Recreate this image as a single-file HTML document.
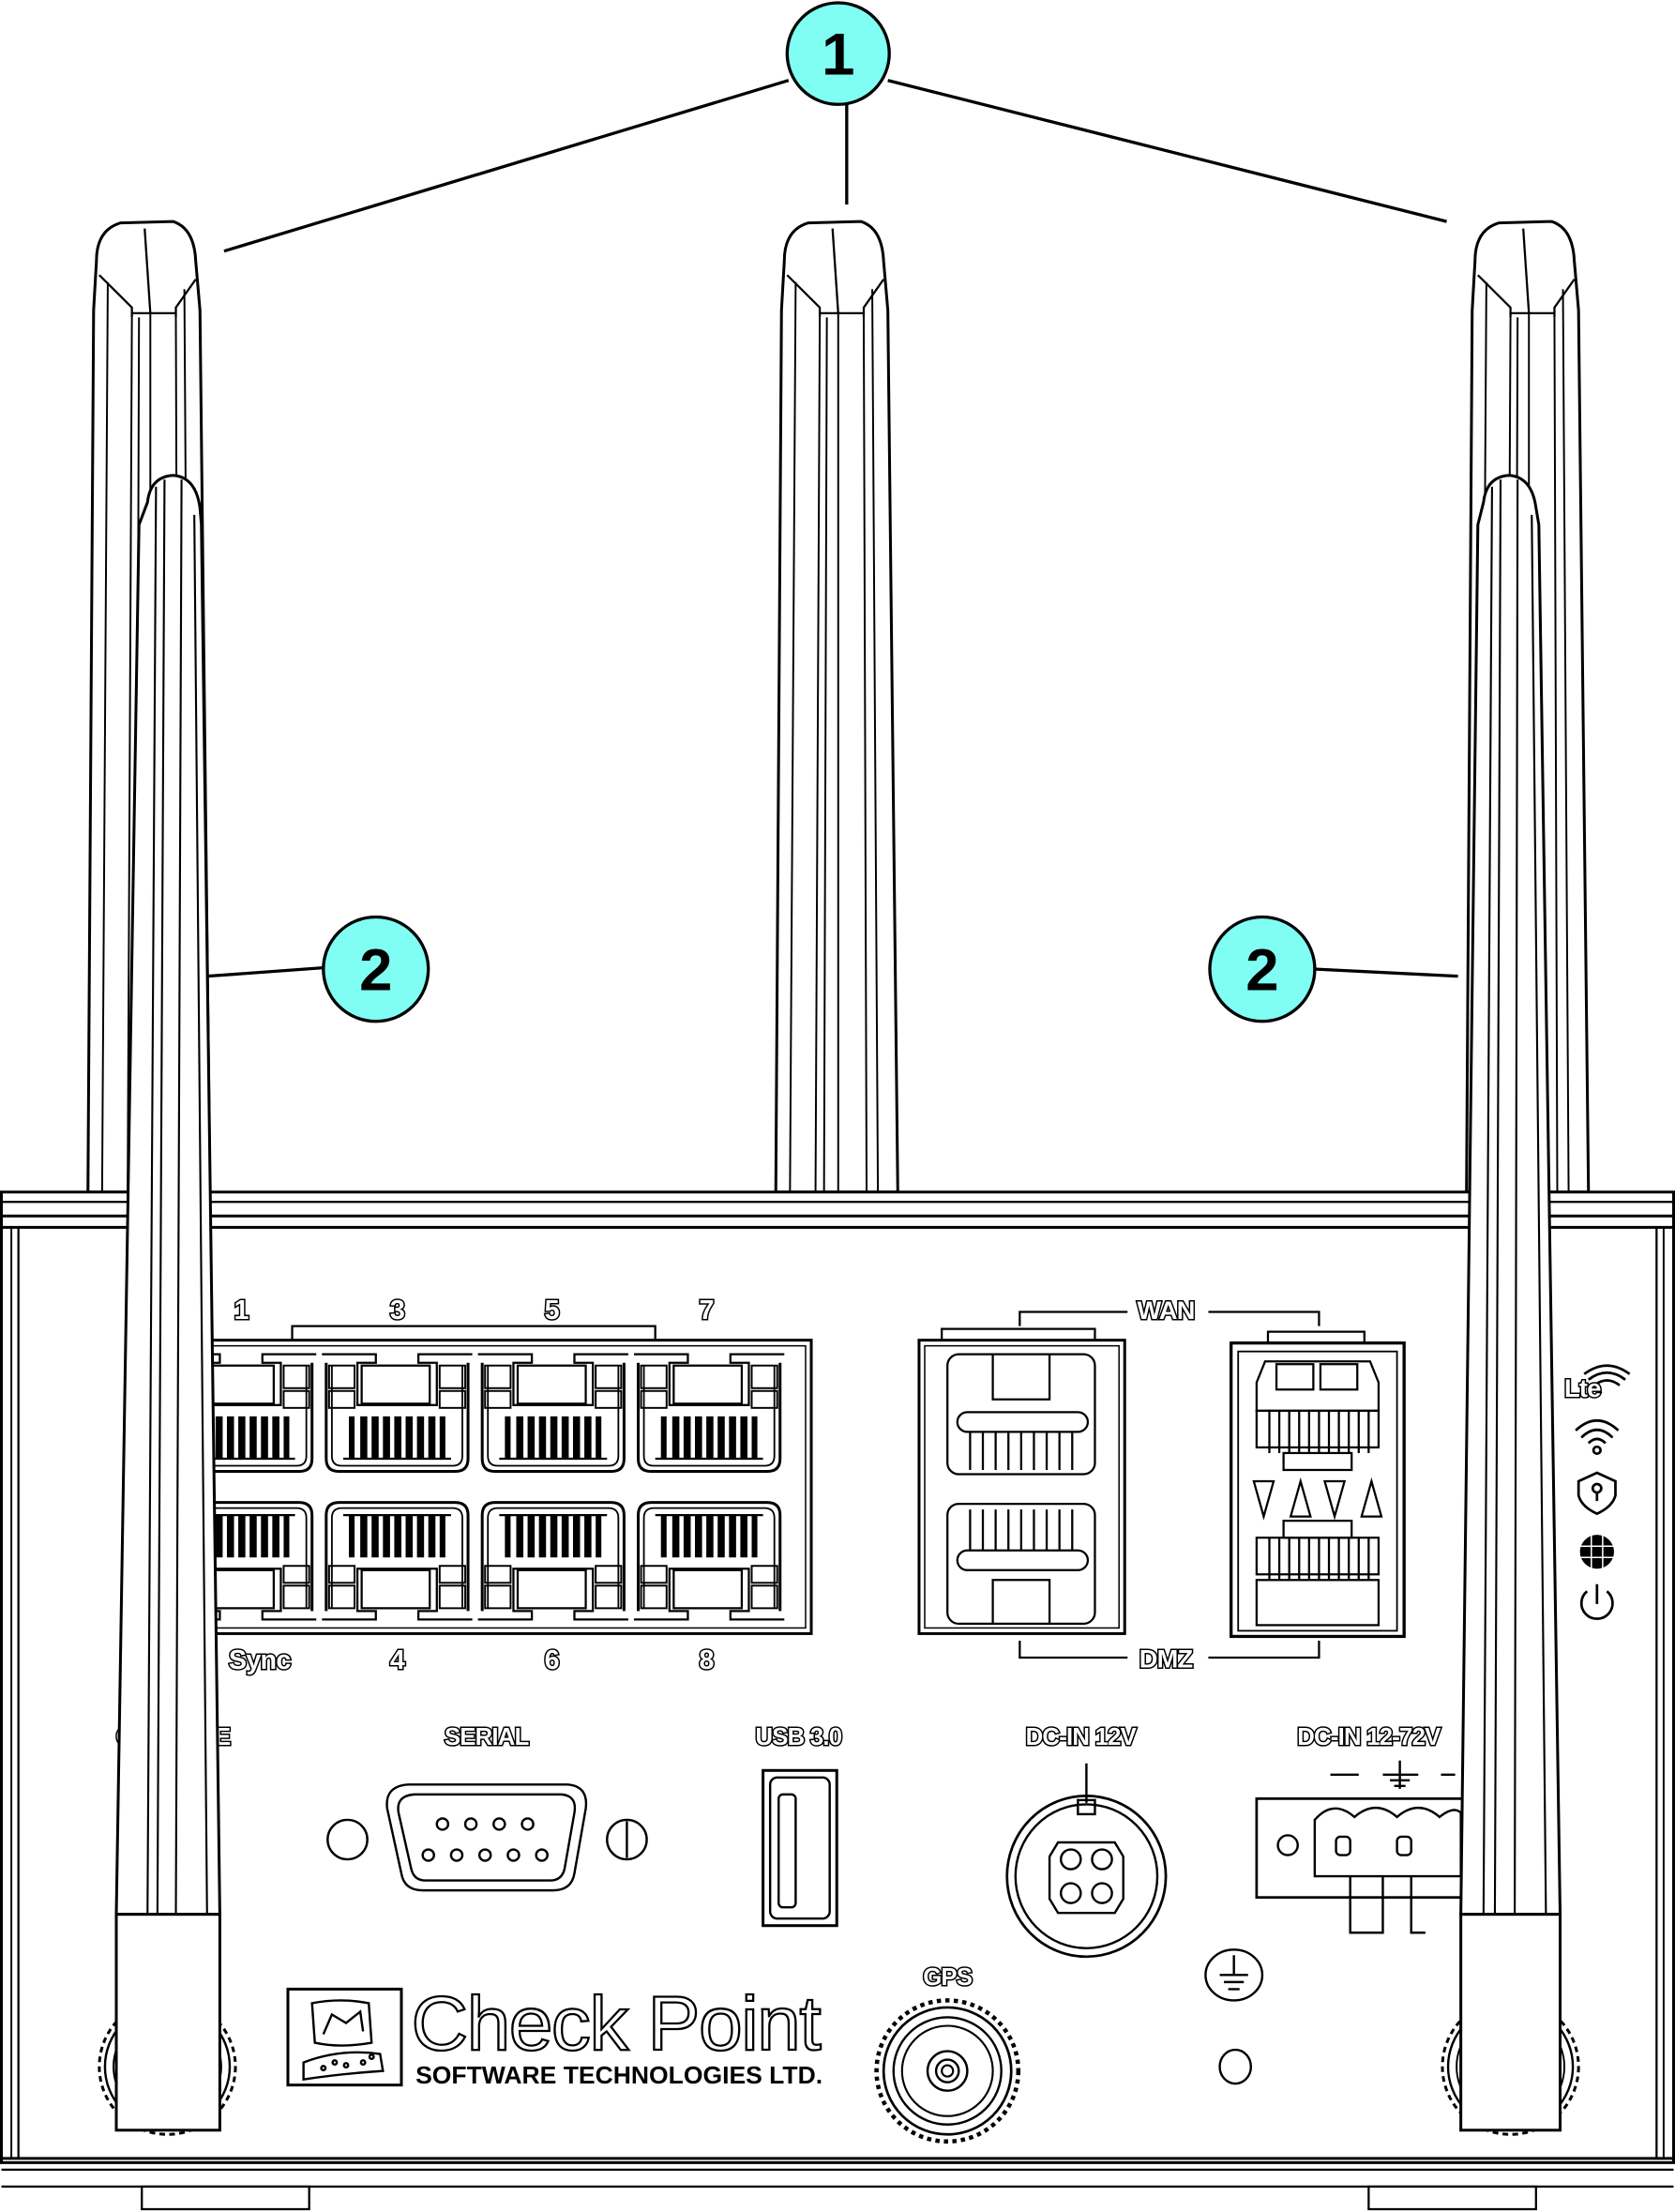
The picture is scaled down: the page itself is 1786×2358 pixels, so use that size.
<!DOCTYPE html>
<html><head><meta charset="utf-8"><style>
html,body{margin:0;padding:0;background:#fff;}
svg{display:block;}
.o{font-family:"Liberation Sans",sans-serif;font-weight:bold;fill:#fff;stroke:#000;stroke-width:2;paint-order:stroke;letter-spacing:-0.5px;}
</style></head><body>
<svg width="1786" height="2358" viewBox="0 0 1181 1568" preserveAspectRatio="none" xmlns="http://www.w3.org/2000/svg">
<defs>
<g id="back">
 <path d="M68,185 Q68,163 85,158 L122,157 Q137,162 138,185 L141,220 L148,845 L62,845 L66,220 Z" fill="#fff" stroke="#000" stroke-width="2"/>
 <path d="M70,195 L93,218 L93,225 M138,198 L124,218 L124,225 M93,222 L124,222 M102,162 L106,222" fill="none" stroke="#000" stroke-width="1.5"/>
 <path d="M76,200 L72,845 M93,225 L90,845 M98,225 L96,845 M106,222 L106,845 M124,225 L126,845 M130,205 L134,845" fill="none" stroke="#000" stroke-width="1.3"/>
</g>
<g id="rjt">
 <path d="M0,8 L0,76 Q0,85 9,85 L91,85 Q100,85 100,76 L100,8" fill="#fff" stroke="#000" stroke-width="2"/>
 <path d="M4,10 L4,74 Q4,81 11,81 L89,81 Q96,81 96,74 L96,10" fill="none" stroke="#000" stroke-width="1.2"/>
 <path d="M-3,2 L35,2 L35,8 L22,8 L22,38 L78,38 L78,8 L65,8 L65,2 L103,2" fill="none" stroke="#000" stroke-width="1.5"/>
 <rect x="25" y="10" width="48" height="27" fill="#fff" stroke="#000" stroke-width="1.5"/>
 <rect x="2" y="10" width="18" height="16" fill="none" stroke="#000" stroke-width="1.3"/>
 <rect x="80" y="10" width="18" height="16" fill="none" stroke="#000" stroke-width="1.3"/>
 <rect x="2" y="28" width="18" height="12" fill="none" stroke="#000" stroke-width="1.3"/>
 <rect x="80" y="28" width="18" height="12" fill="none" stroke="#000" stroke-width="1.3"/>
 <g fill="#000">
  <rect x="16" y="46" width="4" height="30"/><rect x="24" y="46" width="5" height="30"/><rect x="32" y="46" width="5" height="30"/><rect x="40" y="46" width="5" height="30"/><rect x="48" y="46" width="5" height="30"/><rect x="56" y="46" width="5" height="30"/><rect x="64" y="46" width="5" height="30"/><rect x="72" y="46" width="5" height="30"/><rect x="80" y="46" width="4" height="30"/>
 </g>
 <line x1="12" y1="76" x2="88" y2="76" stroke="#000" stroke-width="1.5"/>
</g>
<g id="knob">
 <circle cx="0" cy="0" r="48" fill="#fff" stroke="#000" stroke-width="2" stroke-dasharray="4 3"/>
 <circle cx="0" cy="0" r="44" fill="#fff" stroke="#000" stroke-width="1.6"/>
 <circle cx="0" cy="0" r="38" fill="none" stroke="#000" stroke-width="1.3"/>
</g>
</defs>

<g stroke="#000" stroke-width="2.2" fill="none">
 <line x1="556" y1="57" x2="158" y2="178"/>
 <line x1="597" y1="74" x2="597" y2="145"/>
 <line x1="626" y1="57" x2="1020" y2="157"/>
 <line x1="228" y1="686" x2="146" y2="692"/>
 <line x1="928" y1="687" x2="1028" y2="692"/>
</g>

<use href="#back"/>
<use href="#back" transform="translate(485,0)"/>
<use href="#back" transform="translate(972,0)"/>

<g stroke="#000" fill="#fff">
 <rect x="1" y="845" width="1179" height="688" stroke-width="2"/>
 <line x1="1" y1="852" x2="1180" y2="852" stroke-width="1.5"/>
 <line x1="1" y1="862" x2="1180" y2="862" stroke-width="2"/>
 <line x1="1" y1="870" x2="1180" y2="870" stroke-width="2"/>
 <line x1="8" y1="870" x2="8" y2="1530" stroke-width="1.3"/>
 <line x1="13" y1="870" x2="13" y2="1530" stroke-width="1.5"/>
 <line x1="1168" y1="870" x2="1168" y2="1530" stroke-width="1.5"/>
 <line x1="1173" y1="870" x2="1173" y2="1530" stroke-width="1.3"/>
 <line x1="1" y1="1530" x2="1180" y2="1530" stroke-width="2"/>
 <line x1="1" y1="1538" x2="1180" y2="1538" stroke-width="1.5"/>
 <line x1="1" y1="1550" x2="1180" y2="1550" stroke-width="1.5"/>
 <rect x="100" y="1550" width="118" height="16" stroke-width="1.5"/>
 <rect x="965" y="1550" width="118" height="16" stroke-width="1.5"/>
</g>

<rect x="110" y="950" width="462" height="208" fill="#fff" stroke="#000" stroke-width="2"/>
<rect x="114" y="954" width="454" height="200" fill="none" stroke="#000" stroke-width="1"/>
<path d="M206,950 L206,940 L462,940 L462,950" fill="none" stroke="#000" stroke-width="1.5"/>
<use href="#rjt" x="120" y="958"/>
<use href="#rjt" x="230" y="958"/>
<use href="#rjt" x="340" y="958"/>
<use href="#rjt" x="450" y="958"/>
<use href="#rjt" transform="translate(120,1150) scale(1,-1)"/>
<use href="#rjt" transform="translate(230,1150) scale(1,-1)"/>
<use href="#rjt" transform="translate(340,1150) scale(1,-1)"/>
<use href="#rjt" transform="translate(450,1150) scale(1,-1)"/>
<g class="o" font-size="19" text-anchor="middle">
 <text x="170" y="935">1</text><text x="280" y="935">3</text><text x="389" y="935">5</text><text x="498" y="935">7</text>
 <text x="183" y="1183">Sync</text><text x="280" y="1183">4</text><text x="389" y="1183">6</text><text x="498" y="1183">8</text>
</g>

<rect x="648" y="950" width="145" height="208" fill="#fff" stroke="#000" stroke-width="2"/>
<rect x="652" y="954" width="137" height="200" fill="none" stroke="#000" stroke-width="1"/>
<path d="M664,950 L664,942 L772,942 L772,950" fill="none" stroke="#000" stroke-width="1.5"/>
<g stroke="#000" fill="none" stroke-width="1.5">
 <rect x="668" y="960" width="104" height="85" rx="8"/>
 <rect x="675" y="1001" width="92" height="14" rx="7"/>
 <path d="M684,1015 L684,1042 M693,1015 L693,1042 M702,1015 L702,1042 M711,1015 L711,1042 M720,1015 L720,1042 M729,1015 L729,1042 M738,1015 L738,1042 M747,1015 L747,1042 M756,1015 L756,1042"/>
 <path d="M700,960 L700,992 L740,992 L740,960"/>
 <rect x="668" y="1066" width="104" height="85" rx="8"/>
 <rect x="675" y="1099" width="92" height="14" rx="7"/>
 <path d="M684,1070 L684,1099 M693,1070 L693,1099 M702,1070 L702,1099 M711,1070 L711,1099 M720,1070 L720,1099 M729,1070 L729,1099 M738,1070 L738,1099 M747,1070 L747,1099 M756,1070 L756,1099"/>
 <path d="M700,1151 L700,1120 L740,1120 L740,1151"/>
</g>

<rect x="868" y="952" width="122" height="208" fill="#fff" stroke="#000" stroke-width="2.2"/>
<rect x="873" y="958" width="112" height="198" fill="none" stroke="#000" stroke-width="1.2"/>
<path d="M894,952 L894,944 L962,944 L962,952" fill="none" stroke="#000" stroke-width="1.5"/>
<g stroke="#000" fill="none" stroke-width="1.5">
 <path d="M892,965 L966,965 L972,980 L972,1000 L886,1000 L886,980 Z"/>
 <rect x="900" y="967" width="26" height="18"/><rect x="931" y="967" width="26" height="18"/>
 <rect x="886" y="1000" width="86" height="26"/>
 <path d="M895,1000 L895,1030 M902,1000 L902,1030 M909,1000 L909,1030 M916,1000 L916,1030 M923,1000 L923,1030 M930,1000 L930,1030 M937,1000 L937,1030 M944,1000 L944,1030 M951,1000 L951,1030 M958,1000 L958,1030 M965,1000 L965,1030"/>
 <rect x="905" y="1030" width="48" height="12"/>
 <path d="M884,1050 L898,1050 L891,1075 Z M910,1075 L924,1075 L917,1050 Z M934,1050 L948,1050 L941,1075 Z M960,1075 L974,1075 L967,1050 Z"/>
 <rect x="905" y="1078" width="48" height="12"/>
 <rect x="886" y="1090" width="86" height="26"/>
 <path d="M895,1090 L895,1120 M902,1090 L902,1120 M909,1090 L909,1120 M916,1090 L916,1120 M923,1090 L923,1120 M930,1090 L930,1120 M937,1090 L937,1120 M944,1090 L944,1120 M951,1090 L951,1120 M958,1090 L958,1120 M965,1090 L965,1120"/>
 <rect x="886" y="1120" width="86" height="32"/>
</g>
<g stroke="#000" fill="none" stroke-width="1.5">
 <path d="M719,940 L719,930 L795,930 M852,930 L930,930 L930,940"/>
 <path d="M719,1163 L719,1175 L795,1175 M852,1175 L930,1175 L930,1163"/>
</g>
<g class="o" font-size="18" text-anchor="middle">
 <text x="822" y="935">WAN</text><text x="822" y="1182">DMZ</text>
</g>

<g stroke="#000" fill="none" stroke-width="1.8">
 <path d="M1117,974 Q1133,962 1149,974 M1120,978 Q1133,968 1146,978 M1124,982 Q1133,975 1142,982"/>
 <path d="M1111,1014 Q1126,1000 1141,1014 M1115,1019 Q1126,1008 1137,1019 M1120,1023 Q1126,1017 1132,1023"/>
 <circle cx="1126" cy="1028" r="2.5"/>
 <path d="M1126,1044 L1139,1050 L1139,1060 Q1137,1068 1126,1073 Q1115,1068 1113,1060 L1113,1050 Z"/>
 <circle cx="1126" cy="1055" r="3"/><line x1="1126" y1="1058" x2="1126" y2="1064"/>
 <path d="M1119,1128 A11,11 0 1 0 1133,1128 M1126,1123 L1126,1137"/>
</g>
<circle cx="1126" cy="1100" r="12" fill="#000"/>
<g stroke="#fff" stroke-width="1" fill="none"><path d="M1114,1096 L1138,1096 M1114,1104 L1138,1104 M1122,1088 L1122,1112 M1130,1088 L1130,1112"/></g>
<text class="o" x="1103" y="990" font-size="18">Lte</text>

<g class="o" font-size="17" text-anchor="middle">
 <text x="122" y="1237">CONSOLE</text>
 <text x="343" y="1237">SERIAL</text>
 <text x="563" y="1237">USB 3.0</text>
 <text x="762" y="1237">DC-IN 12V</text>
 <text x="965" y="1237">DC-IN 12-72V</text>
 <text x="668" y="1407">GPS</text>
</g>

<g stroke="#000" fill="none" stroke-width="1.6">
 <circle cx="245" cy="1304" r="14"/>
 <circle cx="442" cy="1304" r="14"/><line x1="442" y1="1291" x2="442" y2="1317"/>
 <path d="M288,1265 L400,1265 Q415,1266 413,1282 L405,1328 Q403,1340 390,1340 L298,1340 Q285,1340 283,1328 L273,1282 Q271,1266 288,1265 Z"/>
 <path d="M292,1272 L396,1272 Q407,1273 405,1285 L398,1325 Q396,1333 388,1333 L300,1333 Q292,1333 290,1325 L281,1285 Q279,1273 292,1272 Z"/>
 <circle cx="312" cy="1293" r="4"/><circle cx="332" cy="1293" r="4"/><circle cx="352" cy="1293" r="4"/><circle cx="372" cy="1293" r="4"/>
 <circle cx="302" cy="1315" r="4"/><circle cx="322" cy="1315" r="4"/><circle cx="342" cy="1315" r="4"/><circle cx="362" cy="1315" r="4"/><circle cx="382" cy="1315" r="4"/>
 <rect x="538" y="1255" width="52" height="110" stroke-width="2"/>
 <rect x="543" y="1260" width="42" height="100" rx="5"/>
 <rect x="549" y="1272" width="12" height="80" rx="3"/>
 <line x1="766" y1="1250" x2="766" y2="1278"/>
 <ellipse cx="766" cy="1330" rx="56" ry="57" stroke-width="1.8"/>
 <ellipse cx="766" cy="1330" rx="50" ry="51"/>
 <rect x="760" y="1276" width="12" height="10"/>
 <path d="M746,1306 L786,1306 L792,1316 L792,1346 L786,1356 L746,1356 L740,1346 L740,1316 Z"/>
 <circle cx="755" cy="1318" r="7"/><circle cx="777" cy="1318" r="7"/><circle cx="755" cy="1342" r="7"/><circle cx="777" cy="1342" r="7"/>
 <path d="M938,1258 L958,1258 M975,1258 L1000,1258 M987,1248 L987,1268 M980,1262 L994,1262 M983,1266 L991,1266 M1016,1258 L1026,1258"/>
 <rect x="886" y="1275" width="150" height="70" stroke-width="1.8"/>
 <path d="M927,1330 L927,1290 Q940,1275 955,1288 Q970,1275 985,1288 Q1000,1275 1015,1288 Q1025,1280 1030,1285 L1030,1330 Z"/>
 <circle cx="908" cy="1308" r="7"/>
 <rect x="942" y="1302" width="10" height="13" rx="3"/><rect x="985" y="1302" width="10" height="13" rx="3"/>
 <path d="M952,1330 L952,1370 L975,1370 L975,1330 M995,1330 L995,1370 L1005,1370"/>
 <ellipse cx="870" cy="1400" rx="20" ry="18"/>
 <path d="M870,1386 L870,1400 M860,1400 L880,1400 M863,1405 L877,1405 M866,1410 L874,1410"/>
 <ellipse cx="871" cy="1465" rx="11" ry="12"/>
</g>

<g transform="translate(668,1468)">
 <circle r="50" fill="#fff" stroke="#000" stroke-width="3" stroke-dasharray="3 3"/>
 <circle r="45" fill="#fff" stroke="#000" stroke-width="1.8"/>
 <circle r="38" fill="none" stroke="#000" stroke-width="1.6"/>
 <circle r="32" fill="none" stroke="#000" stroke-width="1.4"/>
 <circle r="14" fill="none" stroke="#000" stroke-width="1.6"/>
 <circle r="8" fill="none" stroke="#000" stroke-width="1.6"/>
 <circle r="4" fill="none" stroke="#000" stroke-width="1.4"/>
</g>

<use href="#knob" x="118" y="1465"/>
<use href="#knob" x="1065" y="1465"/>

<rect x="203" y="1410" width="80" height="68" fill="#fff" stroke="#000" stroke-width="2"/>
<g stroke="#000" fill="none" stroke-width="1.6">
 <path d="M220,1420 Q240,1416 260,1420 L262,1448 Q240,1452 222,1448 Z"/>
 <path d="M228,1442 L234,1428 L244,1434 L254,1426 L256,1440"/>
 <path d="M214,1462 Q240,1452 268,1456 L270,1468 Q240,1470 214,1474 Z"/>
 <circle cx="228" cy="1466" r="1.5"/><circle cx="236" cy="1462" r="1.5"/><circle cx="244" cy="1464" r="1.5"/><circle cx="256" cy="1462" r="1.5"/><circle cx="262" cy="1458" r="1.5"/>
</g>
<text x="290" y="1453" font-family="'Liberation Sans',sans-serif" font-size="54" fill="#fff" stroke="#000" stroke-width="1.5" letter-spacing="-1" textLength="288" lengthAdjust="spacingAndGlyphs">Check Point</text>
<text x="293" y="1477" font-family="'Liberation Sans',sans-serif" font-size="17" font-weight="bold" fill="#000" textLength="287" lengthAdjust="spacingAndGlyphs">SOFTWARE TECHNOLOGIES LTD.</text>

<g>
 <path d="M104,356 Q106,338 122,337 Q138,338 141,360 L142,372 L155,1357 L82,1357 L98,372 Z" fill="#fff" stroke="#000" stroke-width="2"/>
 <path d="M110,345 L104,1357 M116,340 L111,1357 M128,340 L124,1357 M137,365 L146,1357" fill="none" stroke="#000" stroke-width="1.4"/>
 <rect x="82" y="1357" width="73" height="153" fill="#fff" stroke="#000" stroke-width="2"/>
</g>
<g>
 <path d="M1046,356 Q1048,338 1064,337 Q1080,338 1083,360 L1085,372 L1100,1357 L1030,1357 L1042,372 Z" fill="#fff" stroke="#000" stroke-width="2"/>
 <path d="M1052,345 L1046,1357 M1058,340 L1054,1357 M1070,340 L1068,1357 M1080,365 L1090,1357" fill="none" stroke="#000" stroke-width="1.4"/>
 <rect x="1030" y="1357" width="70" height="153" fill="#fff" stroke="#000" stroke-width="2"/>
</g>

<g stroke="#000" stroke-width="2.2" fill="#80fef4">
 <circle cx="591" cy="38" r="36"/>
 <circle cx="265" cy="687" r="37"/>
 <circle cx="890" cy="687" r="37"/>
</g>
<g font-family="'Liberation Sans',sans-serif" font-weight="bold" font-size="42" text-anchor="middle" fill="#000">
 <text x="591" y="53">1</text>
 <text x="265" y="702">2</text>
 <text x="890" y="702">2</text>
</g>
</svg>
</body></html>
